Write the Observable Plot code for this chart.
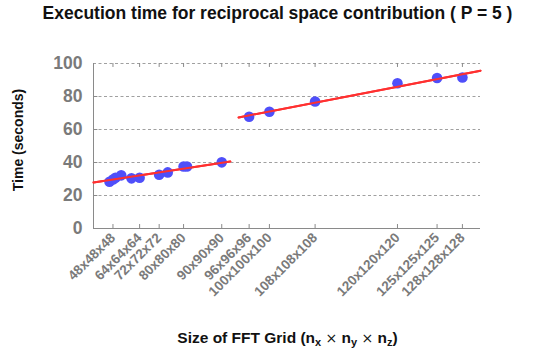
<!DOCTYPE html>
<html>
<head>
<meta charset="utf-8">
<script src="https://cdn.jsdelivr.net/npm/d3@7"></script>
<script src="https://cdn.jsdelivr.net/npm/@observablehq/plot@0.6"></script>
<style>
  html, body { margin: 0; padding: 0; background: #fff; }
  #wrap { position: relative; width: 537px; height: 356px; font-family: "Liberation Sans", Arial, sans-serif; }
  #title { position: absolute; left: 0; width: 537px; top: 3px; text-align: center; padding-left: 18px; box-sizing: border-box;
           font-weight: bold; font-size: 17.5px; color: #111; white-space: nowrap; }
  #xlabel { position: absolute; left: 0; width: 537px; top: 329px; text-align: center; padding-left: 38px; box-sizing: border-box;
            font-weight: bold; font-size: 15.5px; color: #111; white-space: nowrap; }
  #xlabel sub { font-size: 11px; vertical-align: -3px; line-height: 0; }
  #xlabel .op { font-weight: normal; font-family: "DejaVu Sans", sans-serif; font-size: 14px; }
  #ylabel { position: absolute; left: 18px; top: 140px; transform: translate(-50%, -50%) rotate(-90deg);
            font-weight: bold; font-size: 14px; color: #111; white-space: nowrap; }
  svg { position: absolute; left: 0; top: 0; }
</style>
</head>
<body>
<div id="wrap">
  <div id="title">Execution time for reciprocal space contribution ( P = 5 )</div>
  <div id="ylabel">Time (seconds)</div>
  <div id="xlabel">Size of FFT Grid (n<sub>x</sub> <span class="op">&times;</span> n<sub>y</sub> <span class="op">&times;</span> n<sub>z</sub>)</div>
</div>
<script>
// Grid edge length N (grid = N x N x N), measured times (seconds)
const gridN = [45, 48, 50, 54, 60, 64, 72, 75, 80, 81, 90, 96, 100, 108, 120, 125, 128];
const times = [28.3, 29.7, 30.8, 32.2, 30.4, 30.8, 32.6, 34.0, 37.6, 37.6, 40.1, 67.7, 70.8, 77.0, 88.0, 91.2, 91.5];

// Labelled tick grid sizes
const tickN = [48, 64, 72, 80, 90, 96, 100, 108, 120, 125, 128];
const yTicks = [0, 20, 40, 60, 80, 100];

// Two linear fits (grid points, seconds)
const fit1Points = [0, 778000];
const fit1Times = [27.9, 40.6];
const fit2Points = [825000, 2200000];
const fit2Times = [67.3, 95.6];

const pts = gridN.map((n, i) => ({x: n * n * n, y: times[i]}));
const fit1 = fit1Points.map((x, i) => ({x, y: fit1Times[i]}));
const fit2 = fit2Points.map((x, i) => ({x, y: fit2Times[i]}));
const tickVals = tickN.map(n => n * n * n);
const tickLabel = new Map(tickN.map(n => [n * n * n, `${n}x${n}x${n}`]));
const innerY = yTicks.filter(v => v > 0 && v < 100);

const gray = "#8a8a8a";

const chart = Plot.plot({
  width: 537,
  height: 356,
  marginLeft: 93,
  marginRight: 57,
  marginTop: 63,
  marginBottom: 128,
  style: {fontFamily: "Liberation Sans, Arial, sans-serif", background: "transparent", overflow: "visible"},
  x: {type: "linear", domain: [0, 2200000]},
  y: {type: "linear", domain: [0, 100]},
  marks: [
    Plot.ruleY(yTicks.filter(v => v > 0), {y: d => d, stroke: "#a0a0a0", strokeDasharray: "3,2.5", strokeWidth: 1}),
    Plot.ruleY([0], {y: d => d, stroke: gray, strokeWidth: 1}),
    Plot.ruleX([0], {x: d => d, y1: 0, y2: 100, stroke: gray, strokeWidth: 1}),
    // bottom & top inward ticks
    Plot.ruleX(tickVals, {x: d => d, y1: 0, y2: 2.4, stroke: gray, strokeWidth: 1}),
    Plot.ruleX(tickVals, {x: d => d, y1: 97.6, y2: 100, stroke: gray, strokeWidth: 1}),
    // left inward ticks
    Plot.ruleY(innerY, {y: d => d, x1: 0, x2: 25000, stroke: gray, strokeWidth: 1}),
    Plot.axisX({
      ticks: tickVals, tickSize: 0, tickPadding: 7,
      tickFormat: d => tickLabel.get(d),
      tickRotate: -45, fontSize: 13.5, fontWeight: "bold", fill: "#7a7a7a", label: null
    }),
    Plot.axisY({
      ticks: yTicks, tickSize: 0, tickPadding: 11, fontSize: 17.5, fontWeight: "bold", fill: "#7a7a7a", label: null
    }),
    Plot.line(fit1, {x: "x", y: "y", stroke: "#ff3030", strokeWidth: 2}),
    Plot.line(fit2, {x: "x", y: "y", stroke: "#ff3030", strokeWidth: 2}),
    Plot.dot(pts, {x: "x", y: "y", r: 5.3, fill: "#4f4ffa", stroke: "none"}),
    Plot.line(fit1, {x: "x", y: "y", stroke: "#ff3030", strokeWidth: 2}),
    Plot.line(fit2, {x: "x", y: "y", stroke: "#ff3030", strokeWidth: 2})
  ]
});
document.getElementById("wrap").prepend(chart);
</script>
</body>
</html>
